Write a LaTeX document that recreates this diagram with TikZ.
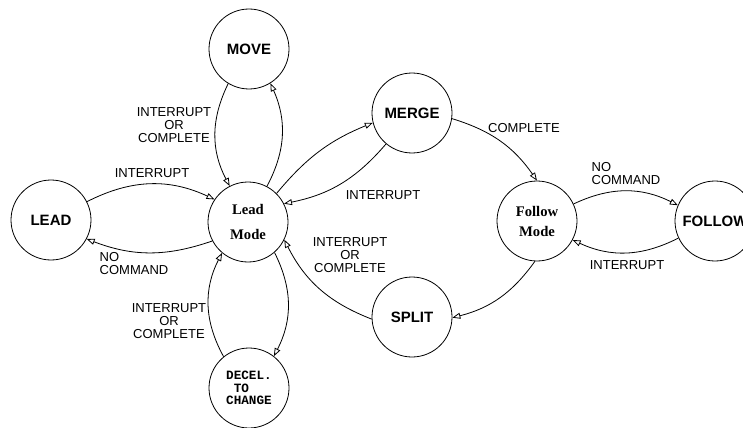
\documentclass[tikz,border=0pt]{standalone}
\usepackage{fontspec}
\setmainfont{Liberation Sans}
\newfontfamily\modefont{Liberation Serif}
\newfontfamily\codefont{Liberation Mono}
\usetikzlibrary{arrows.meta}
\tikzset{
  st/.style={circle, draw, line width=0.6pt, minimum size=60pt, inner sep=0pt, align=center},
  act/.style={st, font=\fontsize{11.25}{13}\selectfont\bfseries},
  mode/.style={st, font=\modefont\fontsize{11}{15}\selectfont\bfseries},
  dec/.style={st, font=\codefont\fontsize{9.5}{9.5}\selectfont\bfseries, align=left},
  tr/.style={-{Triangle[open, length=6pt, width=4.5pt]}, line width=0.6pt},
  lbl/.style={font=\fontsize{9.75}{9.75}\selectfont, inner sep=0pt, align=center},
  lbll/.style={lbl, align=left},
}

\begin{document}
\begin{tikzpicture}[x=0.75pt, y=-0.75pt]
    \useasboundingbox (0,0) rectangle (743,428);
    % --- states ---
    \node[act]  (lead)    at (51,220)  {LEAD};
    \node[mode] (leadm)   at (248,222) {Lead\\[3.75pt]Mode};
    \node[act]  (move)    at (249,49)  {MOVE};
    \node[act]  (merge)   at (412,113) {MERGE};
    \node[mode] (followm) at (537,221) {Follow\\Mode};
    \node[act]  (follow)  at (715,221) {FOLLOW};
    \node[act]  (split)   at (412,317) {SPLIT};
    \node[dec]  (decel)   at (249,388) {DECEL.\\\hphantom{D}TO\\CHANGE};

    % --- lead side ---
    \draw[tr] (lead.27)   to[bend left=26]  (leadm.146);
    \draw[tr] (leadm.208) to[bend left=20]  (lead.332);
    \draw[tr] (move.239)  to[bend right=27] (leadm.117);
    \draw[tr] (leadm.62)  to[bend right=26] (move.302);
    \draw[tr] (decel.129) to[bend left=28]  (leadm.230);
    \draw[tr] (leadm.311) to[bend left=27]  (decel.52);
    \node[lbl]  (lmove)  at (174,125) {INTERRUPT\\OR\\COMPLETE};
    \node[lbl]  (llead)  at (152,173) {INTERRUPT};
    \node[lbll] (lnocmd) at (134,264) {NO\\COMMAND};
    \node[lbl]  (ldecel) at (169,321) {INTERRUPT\\OR\\COMPLETE};

    % --- merge / split loop ---
    \draw[tr] (leadm.45)    to[bend left=14] (merge.194);
    \draw[tr] (merge.230)   to[bend left=19] (leadm.27);
    \draw[tr] (merge.352)   to[bend left=19] (followm.90);
    \draw[tr] (followm.267) to[bend left=20] (split.359);
    \draw[tr] (split.183)   to[bend left=21] (leadm.334);
    \node[lbl] (lmerge) at (383,195) {INTERRUPT};
    \node[lbl] (lcompl) at (524,128) {COMPLETE};
    \node[lbl] (lsplit) at (350,255) {INTERRUPT\\OR\\COMPLETE};

    % --- follow side ---
    \draw[tr] (followm.25) to[bend left=26] (follow.157);
    \draw[tr] (follow.205) to[bend left=26] (followm.332);
    \node[lbll] (lnocmdf) at (626,174) {NO\\COMMAND};
    \node[lbl]  (lintf)   at (627,265) {INTERRUPT};
\end{tikzpicture}
\end{document}
